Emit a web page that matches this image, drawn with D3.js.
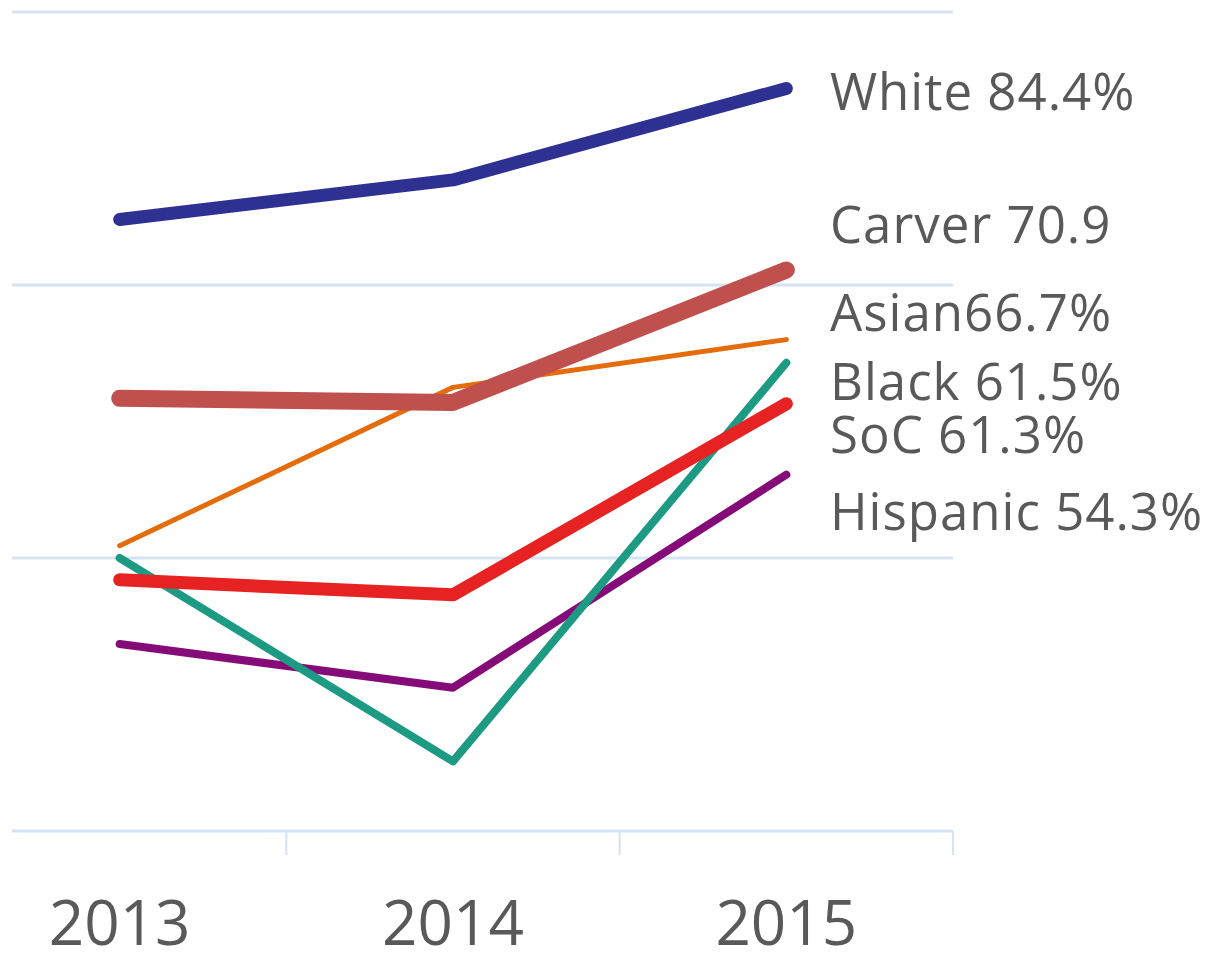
<!DOCTYPE html>
<html>
  <head>
    <meta charset="utf-8">
    <title>Graduation rates by group</title>
    <script src="https://d3js.org/d3.v7.min.js"></script>
    <style>
      body { margin: 0; background: #fff; }
      text { font-family: "Open Sans", sans-serif; fill: #595959; }
    </style>
  </head>
  <body>
    <svg id="chart" width="1212" height="953"></svg>
    <script>
      // data
      var years = ["2013", "2014", "2015"];
      var groups = ["White", "Carver", "Asian", "Black", "SoC", "Hispanic"];
      var white = [74.8, 77.7, 84.4];
      var carver = [61.7, 61.4, 71.1];
      var asian = [50.9, 62.5, 66.0];
      var black = [50.0, 35.1, 64.3];
      var soc = [48.4, 47.3, 61.3];
      var hispanic = [43.7, 40.5, 56.1];
      var labels = ["White 84.4%", "Carver 70.9", "Asian66.7%", "Black 61.5%", "SoC 61.3%", "Hispanic 54.3%"];
      // where each label's baseline sits, in chart units
      var labelAt = [82.8, 73.1, 66.6, 61.6, 57.7, 52.05];
      var gridValues = [50, 70, 90];

      var series = [white, carver, asian, black, soc, hispanic];
      var colors = ["#2e3192", "#c0504d", "#e46c0a", "#1d9a83", "#e62222", "#850c78"];
      var widths = [13, 17, 5, 8, 13, 8];

      var svg = d3.select("#chart");

      // scales: first band is cut off on the left, like the source
      var x = d3.scaleBand()
        .domain(years)
        .range([-47, 953]);
      var y = d3.scaleLinear()
        .domain([30, 90])
        .range([831, 12]);

      // gridlines
      svg.append("g")
        .selectAll("line")
          .data(gridValues)
        .enter().append("line")
          .attr("x1", 12)
          .attr("x2", 953)
          .attr("y1", function(d) { return y(d); })
          .attr("y2", function(d) { return y(d); })
          .attr("stroke", "#d5e3f2")
          .attr("stroke-width", 3);

      // x axis: line, tick marks at band edges, labels centred
      var axisGroup = svg.append("g");
      axisGroup.append("line")
        .attr("x1", 12)
        .attr("x2", 953)
        .attr("y1", y(30))
        .attr("y2", y(30))
        .attr("stroke", "#d5e3f2")
        .attr("stroke-width", 3);
      axisGroup.selectAll(".tick")
          .data(years)
        .enter().append("line")
          .attr("class", "tick")
          .attr("x1", function(d) { return x(d) + x.bandwidth(); })
          .attr("x2", function(d) { return x(d) + x.bandwidth(); })
          .attr("y1", y(30))
          .attr("y2", y(30) + 24)
          .attr("stroke", "#d5e3f2")
          .attr("stroke-width", 2);
      axisGroup.selectAll(".year")
          .data(years)
        .enter().append("text")
          .attr("class", "year")
          .attr("x", function(d) { return x(d) + x.bandwidth() / 2; })
          .attr("y", 945)
          .attr("text-anchor", "middle")
          .style("font-size", "62px")
          .text(function(d) { return d; });

      // lines (White drawn last so it sits on top)
      var line = d3.line()
        .x(function(d, i) { return x(years[i]) + x.bandwidth() / 2; })
        .y(function(d) { return y(d); });

      var order = [2, 1, 5, 3, 4, 0];
      svg.append("g")
        .selectAll("path")
          .data(order)
        .enter().append("path")
          .attr("d", function(k) { return line(series[k]); })
          .attr("fill", "none")
          .attr("stroke", function(k) { return colors[k]; })
          .attr("stroke-width", function(k) { return widths[k]; })
          .attr("stroke-linejoin", "round")
          .attr("stroke-linecap", "round");

      // end labels
      svg.append("g")
        .selectAll("text")
          .data(groups)
        .enter().append("text")
          .attr("x", 830)
          .attr("y", function(d, i) { return y(labelAt[i]); })
          .style("font-size", "51px")
          .style("letter-spacing", "1px")
          .text(function(d, i) { return labels[i]; });
    </script>
  </body>
</html>
